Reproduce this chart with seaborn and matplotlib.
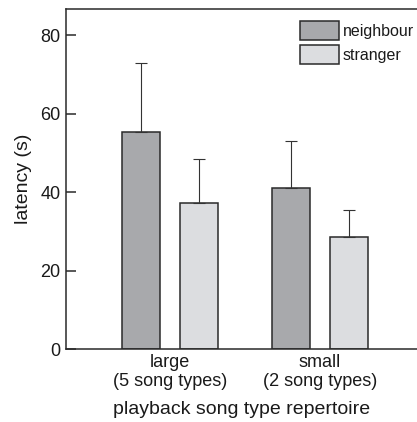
import numpy as np
import pandas as pd
import matplotlib
matplotlib.use("Agg")
import matplotlib.pyplot as plt
import seaborn as sns

# values
repertoire = ['large\n(5 song types)', 'small\n(2 song types)']
neighbour_mean = [55.3, 41.0]
neighbour_upper = [72.9, 53.0]
stranger_mean = [37.3, 28.5]
stranger_upper = [48.4, 35.5]

df = pd.DataFrame({
    'repertoire': repertoire * 2,
    'playback': ['neighbour'] * 2 + ['stranger'] * 2,
    'latency': neighbour_mean + stranger_mean,
})
upper = neighbour_upper + stranger_upper

sns.set_style('ticks')
plt.rcParams['font.family'] = ['Liberation Sans', 'DejaVu Sans']
plt.rcParams['text.color'] = '#1a1a1a'
plt.rcParams['axes.labelcolor'] = '#1a1a1a'
plt.rcParams['xtick.color'] = '#1a1a1a'
plt.rcParams['ytick.color'] = '#1a1a1a'

fig = plt.figure(figsize=(4.17, 4.22), dpi=100)
ax = fig.add_axes([0.158, 0.172, 0.842, 0.807])

palette = {'neighbour': '#a8a9ac', 'stranger': '#dcdde0'}
sns.barplot(data=df, x='repertoire', y='latency', hue='playback',
            palette=palette, width=0.773, gap=0.346, errorbar=None,
            edgecolor='#2a2a2a', linewidth=1.1, saturation=1, ax=ax)

# upward-only error bars, placed on the bars seaborn drew
for patch, (hue, cat) in zip(ax.patches, [(h, c) for h in ['neighbour', 'stranger'] for c in repertoire]):
    row = df[(df.playback == hue) & (df.repertoire == cat)].index[0]
    xc = patch.get_x() + patch.get_width() / 2
    top = patch.get_height()
    ax.errorbar([xc], [top], yerr=[[0], [upper[row] - top]], fmt='none',
                ecolor='#333333', elinewidth=0.8, capsize=4, capthick=0.8, zorder=1)

ax.set_ylim(0, 86.7)
ax.set_xlim(-0.693, 1.647)
ax.set_yticks([0, 20, 40, 60, 80])
ax.tick_params(axis='y', direction='in', length=7.5, width=1.1, color='#2a2a2a',
               labelsize=13, pad=4)
ax.tick_params(axis='x', length=0, labelsize=13, pad=3)
for s in ['left', 'top', 'bottom']:
    ax.spines[s].set_linewidth(1.1)
    ax.spines[s].set_color('#2a2a2a')
ax.spines['right'].set_visible(False)

ax.set_ylabel('latency (s)', fontsize=14, labelpad=6)
ax.set_xlabel('playback song type repertoire', fontsize=14, labelpad=8)

ax.legend(title=None, loc='upper right', bbox_to_anchor=(1.0, 0.975), frameon=False,
          fontsize=11.5, handlelength=2.4, handleheight=1.5, labelspacing=0.3,
          handletextpad=0.25, borderaxespad=0, borderpad=0.2)

fig.savefig('out.png', dpi=100)
